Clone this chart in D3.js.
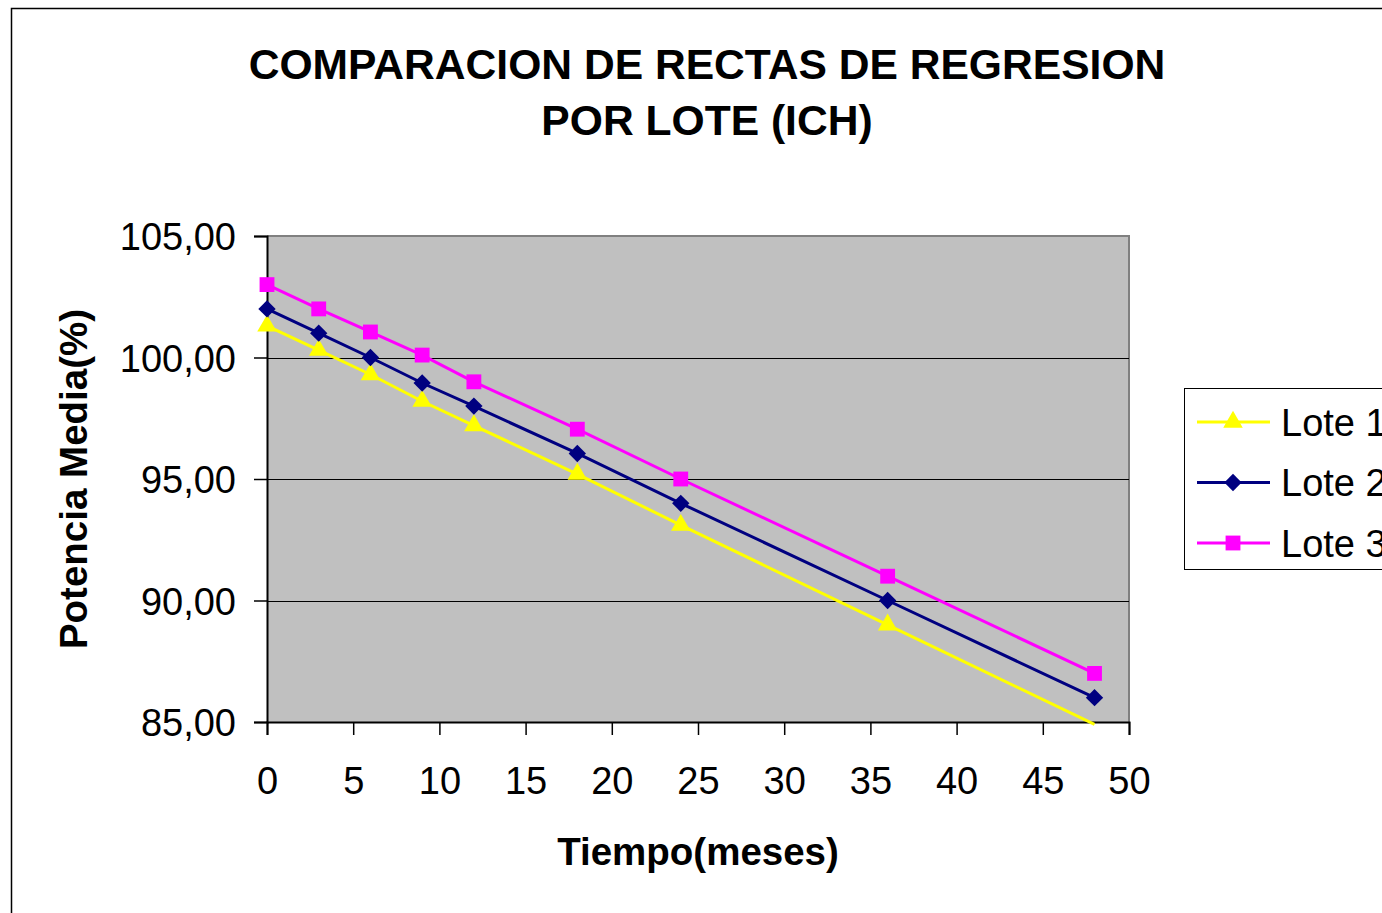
<!DOCTYPE html>
<html>
<head>
<meta charset="utf-8">
<script src="https://cdn.jsdelivr.net/npm/d3@7"></script>
<style>
  body { margin: 0; background: #fff; }
  svg { display: block; font-family: Arial, "Liberation Sans", sans-serif; }
</style>
</head>
<body>
<div id="chart"></div>
<script>
const months = [0, 3, 6, 9, 12, 18, 24, 36, 48];
const lote1 = [101.3, 100.3, 99.3, 98.2, 97.2, 95.2, 93.1, 89.0, 84.9];
const lote2 = [102.0, 101.0, 100.0, 98.95, 98.0, 96.05, 94.0, 90.0, 86.0];
const lote3 = [103.0, 102.0, 101.05, 100.1, 99.0, 97.05, 95.0, 91.0, 87.0];
const seriesNames = ['Lote 1', 'Lote 2', 'Lote 3'];
const yTicks = [85, 90, 95, 100, 105];
const xTicks = [0, 5, 10, 15, 20, 25, 30, 35, 40, 45, 50];

const width = 1382, height = 913;
const plot = { left: 267, right: 1129, top: 236, bottom: 722 };

const series = [
  { name: seriesNames[0], values: lote1, color: '#ffff00', symbol: d3.symbolTriangle, size: 165, rot: 0 },
  { name: seriesNames[1], values: lote2, color: '#000080', symbol: d3.symbolSquare, size: 150, rot: 45 },
  { name: seriesNames[2], values: lote3, color: '#ff00ff', symbol: d3.symbolSquare, size: 220, rot: 0 }
];

const svg = d3.select('#chart').append('svg')
  .attr('width', width)
  .attr('height', height);

// outer chart frame (only top/left visible in the crop)
svg.append('path')
  .attr('d', `M11.5,${height} V8.5 H${width}`)
  .attr('fill', 'none')
  .attr('stroke', '#000')
  .attr('stroke-width', 1.5);

const x = d3.scaleLinear().domain([0, 50]).range([plot.left, plot.right]);
const y = d3.scaleLinear().domain([85, 105]).range([plot.bottom, plot.top]);

// plot background
svg.append('rect')
  .attr('x', plot.left).attr('y', plot.top)
  .attr('width', plot.right - plot.left)
  .attr('height', plot.bottom - plot.top)
  .attr('fill', '#c0c0c0');

svg.append('path')
  .attr('d', `M${plot.left},${plot.top} H${plot.right} V${plot.bottom}`)
  .attr('fill', 'none')
  .attr('stroke', '#808080')
  .attr('stroke-width', 2);

// gridlines
svg.append('g')
  .selectAll('line')
  .data(yTicks.filter(d => d > 85 && d < 105))
  .join('line')
  .attr('x1', plot.left).attr('x2', plot.right)
  .attr('y1', d => Math.round(y(d)) + 0.5).attr('y2', d => Math.round(y(d)) + 0.5)
  .attr('stroke', '#000')
  .attr('stroke-width', 1);

const fmt = d => d3.format('.2f')(d).replace('.', ',');

const yAxis = svg.append('g')
  .attr('transform', `translate(${plot.left},0)`)
  .call(d3.axisLeft(y).tickValues(yTicks).tickSize(13).tickPadding(18).tickFormat(fmt));

const xAxis = svg.append('g')
  .attr('transform', `translate(0,${plot.bottom})`)
  .call(d3.axisBottom(x).tickValues(xTicks).tickSize(13).tickPadding(32).tickFormat(d3.format('d')));

[yAxis, xAxis].forEach(g => {
  g.select('.domain').attr('stroke', '#000').attr('stroke-width', 2);
  g.selectAll('.tick line').attr('stroke', '#000').attr('stroke-width', 1.5);
  g.selectAll('.tick text')
    .attr('fill', '#000')
    .style('font-size', '38px')
    .style('font-family', 'Arial, "Liberation Sans", sans-serif');
});
yAxis.selectAll('.tick text').attr('dy', '0.36em');
xAxis.selectAll('.tick text').attr('dy', '0.72em');

// lines and markers
const line = d3.line()
  .x((d, i) => x(months[i]))
  .y(d => y(d));

series.forEach(s => {
  svg.append('path')
    .datum(s.values)
    .attr('d', line)
    .attr('fill', 'none')
    .attr('stroke', s.color)
    .attr('stroke-width', 3);

  const sym = d3.symbol().type(s.symbol).size(s.size);
  svg.append('g')
    .selectAll('path')
    .data(s.values.map((v, i) => ({ v, m: months[i] })).filter(d => d.v >= 85))
    .join('path')
    .attr('d', sym)
    .attr('fill', s.color)
    .attr('transform', d => `translate(${x(d.m)},${y(d.v)}) rotate(${s.rot})`);
});

// title
const title = svg.append('text')
  .attr('text-anchor', 'middle')
  .attr('font-weight', 'bold')
  .style('font-size', '42.6px')
  .attr('fill', '#000');
title.append('tspan').attr('x', 707).attr('y', 79).text('COMPARACION DE RECTAS DE REGRESION');
title.append('tspan').attr('x', 707).attr('y', 135).text('POR LOTE (ICH)');

// axis titles
svg.append('text')
  .attr('x', (plot.left + plot.right) / 2)
  .attr('y', 865)
  .attr('text-anchor', 'middle')
  .attr('font-weight', 'bold')
  .style('font-size', '38.5px')
  .text('Tiempo(meses)');

svg.append('text')
  .attr('transform', `translate(87,${(plot.top + plot.bottom) / 2}) rotate(-90)`)
  .attr('text-anchor', 'middle')
  .attr('font-weight', 'bold')
  .style('font-size', '38.5px')
  .text('Potencia Media(%)');

// legend
const legend = svg.append('g');
legend.append('rect')
  .attr('x', 1184.5).attr('y', 388.5)
  .attr('width', 260).attr('height', 181)
  .attr('fill', '#fff')
  .attr('stroke', '#000')
  .attr('stroke-width', 1);

const legY = d3.scalePoint().domain(seriesNames).range([422, 543]);
series.forEach(s => {
  const cy = legY(s.name);
  legend.append('line')
    .attr('x1', 1197).attr('x2', 1270)
    .attr('y1', cy).attr('y2', cy)
    .attr('stroke', s.color)
    .attr('stroke-width', 3);
  legend.append('path')
    .attr('d', d3.symbol().type(s.symbol).size(s.size)())
    .attr('fill', s.color)
    .attr('transform', `translate(1233,${cy}) rotate(${s.rot})`);
  legend.append('text')
    .attr('x', 1281).attr('y', cy)
    .attr('dy', '0.36em')
    .style('font-size', '38px')
    .text(s.name);
});
</script>
</body>
</html>
